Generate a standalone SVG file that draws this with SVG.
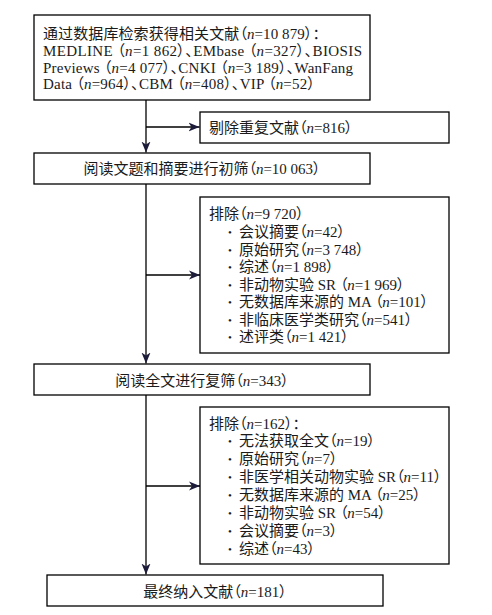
<svg xmlns="http://www.w3.org/2000/svg" width="492" height="615" viewBox="0 0 492 615">
<style>
text{font-family:"Liberation Serif","Noto Sans CJK SC",serif;font-size:15px;fill:#1a1a1a;font-feature-settings:"palt"}
.i{font-style:italic}
.box{fill:#fff;stroke:#000;stroke-width:1.3}
.ln{fill:none;stroke:#000;stroke-width:1.3}
.b{font-size:11px}
</style>
<defs>
<marker id="ah" markerWidth="12" markerHeight="10" refX="11" refY="5" orient="auto" markerUnits="userSpaceOnUse">
<path d="M0,0.5 L11,5 L0,9.5 L3,5 Z" fill="#1c1c3a"/>
</marker>
</defs>
<rect width="492" height="615" fill="#fff"/>
<g id="connectors">
<path class="ln" d="M146,100 V152.5" marker-end="url(#ah)"/>
<path class="ln" d="M146,127 H199.5" marker-end="url(#ah)"/>
<path class="ln" d="M146,184 V363.5" marker-end="url(#ah)"/>
<path class="ln" d="M146,275 H200" marker-end="url(#ah)"/>
<path class="ln" d="M146,395 V574.5" marker-end="url(#ah)"/>
<path class="ln" d="M146,486 H200" marker-end="url(#ah)"/>
</g>
<g id="n1">
<rect class="box" x="34" y="15" width="336" height="85"/>
<text x="43" y="39" textLength="277" lengthAdjust="spacing">通过数据库检索获得相关文献（<tspan class="i">n</tspan>=10 879）：</text>
<text x="43" y="56" textLength="319" lengthAdjust="spacing">MEDLINE （<tspan class="i">n</tspan>=1 862）、EMbase （<tspan class="i">n</tspan>=327）、BIOSIS</text>
<text x="43" y="72.5" textLength="310" lengthAdjust="spacing">Previews （<tspan class="i">n</tspan>=4 077）、CNKI （<tspan class="i">n</tspan>=3 189）、WanFang</text>
<text x="43" y="89" textLength="272" lengthAdjust="spacing">Data （<tspan class="i">n</tspan>=964）、CBM （<tspan class="i">n</tspan>=408）、VIP （<tspan class="i">n</tspan>=52）</text>
</g>
<g id="n2">
<rect class="box" x="200" y="112" width="249" height="31"/>
<text x="209" y="133">剔除重复文献（<tspan class="i">n</tspan>=816）</text>
</g>
<g id="n3">
<rect class="box" x="34" y="153" width="336" height="31"/>
<text x="202" y="174" text-anchor="middle">阅读文题和摘要进行初筛（<tspan class="i">n</tspan>=10 063）</text>
</g>
<g id="n4">
<rect class="box" x="200" y="197" width="249" height="156"/>
<text x="209" y="219">排除（<tspan class="i">n</tspan>=9 720）</text>
<text class="b" x="228" y="236">•</text><text x="239" y="237">会议摘要（<tspan class="i">n</tspan>=42）</text>
<text class="b" x="228" y="253.5">•</text><text x="239" y="254.5">原始研究（<tspan class="i">n</tspan>=3 748）</text>
<text class="b" x="228" y="271">•</text><text x="239" y="272">综述（<tspan class="i">n</tspan>=1 898）</text>
<text class="b" x="228" y="288.5">•</text><text x="239" y="289.5">非动物实验 SR （<tspan class="i">n</tspan>=1 969）</text>
<text class="b" x="228" y="306">•</text><text x="239" y="307">无数据库来源的 MA （<tspan class="i">n</tspan>=101）</text>
<text class="b" x="228" y="323.5">•</text><text x="239" y="324.5">非临床医学类研究（<tspan class="i">n</tspan>=541）</text>
<text class="b" x="228" y="341">•</text><text x="239" y="342">述评类（<tspan class="i">n</tspan>=1 421）</text>
</g>
<g id="n5">
<rect class="box" x="34" y="364" width="336" height="31"/>
<text x="202" y="386" text-anchor="middle">阅读全文进行复筛（<tspan class="i">n</tspan>=343）</text>
</g>
<g id="n6">
<rect class="box" x="200" y="407" width="249" height="157"/>
<text x="209" y="429">排除（<tspan class="i">n</tspan>=162）：</text>
<text class="b" x="228" y="445">•</text><text x="239" y="446">无法获取全文（<tspan class="i">n</tspan>=19）</text>
<text class="b" x="228" y="463">•</text><text x="239" y="464">原始研究（<tspan class="i">n</tspan>=7）</text>
<text class="b" x="228" y="481">•</text><text x="239" y="482">非医学相关动物实验 SR（<tspan class="i">n</tspan>=11）</text>
<text class="b" x="228" y="499">•</text><text x="239" y="500">无数据库来源的 MA （<tspan class="i">n</tspan>=25）</text>
<text class="b" x="228" y="517">•</text><text x="239" y="518">非动物实验 SR （<tspan class="i">n</tspan>=54）</text>
<text class="b" x="228" y="535">•</text><text x="239" y="536">会议摘要（<tspan class="i">n</tspan>=3）</text>
<text class="b" x="228" y="553">•</text><text x="239" y="554">综述（<tspan class="i">n</tspan>=43）</text>
</g>
<g id="n7">
<rect class="box" x="47" y="575" width="336" height="31"/>
<text x="215" y="597" text-anchor="middle">最终纳入文献（<tspan class="i">n</tspan>=181）</text>
</g>
</svg>
